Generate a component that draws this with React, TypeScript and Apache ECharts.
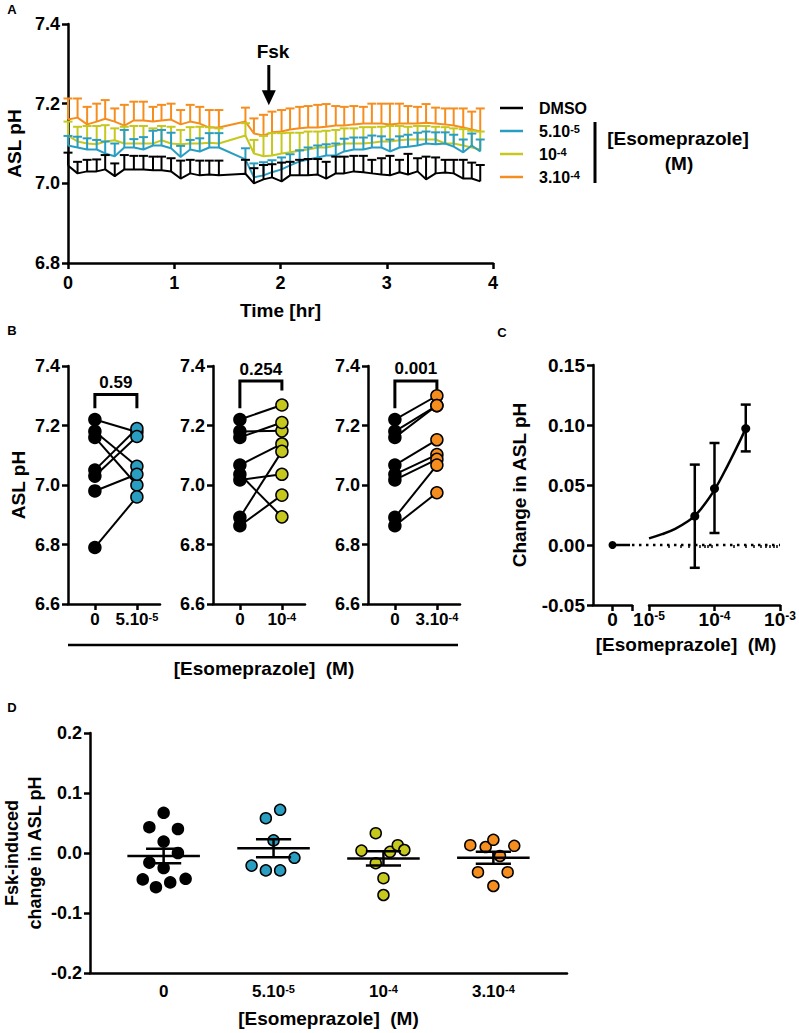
import React, { useEffect, useRef } from 'react';
import * as echarts from 'echarts';

const F = 'Arial, "Liberation Sans", Helvetica, sans-serif';
const FN = '"Liberation Sans Narrow", "Arial Narrow", Arial, "Liberation Sans", sans-serif';

const C_DMSO = '#000000';
const C_50 = '#2A9EC1';
const C_100 = '#C6C81E';
const C_300 = '#F68E1F';

// ---------------- Panel A ----------------
const timeHr = [0, 0.09, 0.18, 0.27, 0.35, 0.44, 0.53, 0.62, 0.71, 0.8, 0.88, 0.97, 1.06, 1.15, 1.24, 1.33, 1.42,
  1.67,
  1.75, 1.84, 1.92, 2.01, 2.09, 2.18, 2.26, 2.35, 2.43, 2.52, 2.6, 2.69, 2.78, 2.86, 2.95, 3.03, 3.12, 3.2, 3.29, 3.37, 3.46, 3.55, 3.63, 3.72, 3.8, 3.88];

const dmsoMean = [7.045, 7.025, 7.03, 7.03, 7.035, 7.018, 7.035, 7.035, 7.035, 7.033, 7.033, 7.03, 7.012, 7.025, 7.02, 7.022, 7.02,
  7.024,
  7.0, 7.01, 7.015, 7.005, 7.02, 7.02, 7.02, 7.022, 7.012, 7.025, 7.025, 7.03, 7.028, 7.025, 7.022, 7.02, 7.028, 7.022, 7.03, 7.01, 7.025, 7.027, 7.025, 7.012, 7.012, 7.005];
const dmsoSem = [0.032, 0.029, 0.029, 0.03, 0.036, 0.032, 0.036, 0.034, 0.034, 0.034, 0.034, 0.033, 0.045, 0.034, 0.037, 0.035, 0.037,
  0.035,
  0.038, 0.036, 0.033, 0.047, 0.034, 0.039, 0.041, 0.039, 0.042, 0.042, 0.042, 0.039, 0.041, 0.034, 0.041, 0.049, 0.031, 0.052, 0.033, 0.057, 0.04, 0.032, 0.034, 0.047, 0.04, 0.041];

const eso300Mean = [7.16, 7.165, 7.148, 7.155, 7.162, 7.155, 7.145, 7.158, 7.158, 7.155, 7.158, 7.16, 7.148, 7.155, 7.15, 7.14, 7.14,
  7.155,
  7.125, 7.12, 7.128, 7.13, 7.135, 7.138, 7.14, 7.14, 7.142, 7.145, 7.145, 7.148, 7.15, 7.15, 7.15, 7.148, 7.15, 7.15, 7.15, 7.152, 7.15, 7.148, 7.145, 7.14, 7.135, 7.13];
const eso300Sem = [0.053, 0.048, 0.044, 0.045, 0.047, 0.033, 0.052, 0.047, 0.047, 0.037, 0.039, 0.04, 0.036, 0.042, 0.042, 0.044, 0.044,
  0.035,
  0.038, 0.052, 0.052, 0.054, 0.053, 0.054, 0.054, 0.057, 0.057, 0.049, 0.047, 0.046, 0.042, 0.05, 0.05, 0.052, 0.05, 0.044, 0.042, 0.047, 0.04, 0.04, 0.043, 0.048, 0.045, 0.058];

const eso100Mean = [7.12, 7.105, 7.1, 7.098, 7.105, 7.108, 7.1, 7.1, 7.1, 7.1, 7.108, 7.1, 7.098, 7.1, 7.1, 7.102, 7.1,
  7.12,
  7.075, 7.068, 7.07, 7.075, 7.078, 7.082, 7.085, 7.09, 7.09, 7.095, 7.1, 7.1, 7.1, 7.102, 7.105, 7.105, 7.108, 7.11, 7.11, 7.11, 7.11, 7.1, 7.1, 7.095, 7.09, 7.085];
const eso100Sem = [0.035, 0.037, 0.044, 0.046, 0.041, 0.03, 0.042, 0.044, 0.044, 0.038, 0.036, 0.042, 0.036, 0.041, 0.042, 0.039, 0.038,
  0.031,
  0.034, 0.051, 0.056, 0.051, 0.049, 0.045, 0.045, 0.04, 0.042, 0.039, 0.038, 0.038, 0.041, 0.039, 0.037, 0.039, 0.036, 0.032, 0.034, 0.034, 0.032, 0.041, 0.038, 0.041, 0.042, 0.045];

const eso50Mean = [7.095, 7.09, 7.085, 7.085, 7.075, 7.068, 7.09, 7.09, 7.085, 7.095, 7.095, 7.088, 7.066, 7.085, 7.08, 7.09, 7.09,
  7.06,
  7.015, 7.02, 7.028, 7.035, 7.045, 7.055, 7.06, 7.065, 7.07, 7.07, 7.08, 7.085, 7.085, 7.09, 7.09, 7.08, 7.09, 7.092, 7.095, 7.1, 7.098, 7.1, 7.092, 7.078, 7.095, 7.08];
const eso50Sem = [0.024, 0.027, 0.028, 0.024, 0.03, 0.032, 0.044, 0.021, 0.031, 0.037, 0.039, 0.039, 0.028, 0.024, 0.033, 0.036, 0.036,
  0.028,
  0.035, 0.033, 0.03, 0.03, 0.028, 0.028, 0.03, 0.03, 0.028, 0.03, 0.032, 0.03, 0.03, 0.03, 0.028, 0.03, 0.028, 0.03, 0.032, 0.03, 0.03, 0.028, 0.03, 0.032, 0.03, 0.03];

const fskTime = 1.89;
const fskArrowTop = 7.297;
const fskArrowTip = 7.196;
const fskLabelTime = 1.93;
const fskLabelPH = 7.33;

const legendNames = ['DMSO', '5.10|-5', '10|-4', '3.10|-4'];

// ---------------- Panel B ----------------
const b50Before = [7.22, 7.18, 7.16, 7.05, 7.03, 6.98, 6.79];
const b50After = [7.178, 7.063, 7.0, 7.19, 7.163, 7.036, 6.96];
const b100Before = [7.22, 7.18, 7.16, 7.067, 7.036, 7.017, 6.891, 6.863];
const b100After = [7.269, 7.182, 7.21, 7.138, 6.893, 7.036, 7.113, 6.966];
const b300Before = [7.22, 7.18, 7.16, 7.067, 7.036, 7.017, 6.891, 6.863];
const b300After = [7.3, 7.267, 7.267, 7.152, 7.102, 7.086, 7.067, 6.974];
const bPValues = ['0.59', '0.254', '0.001'];
const bBracketTop = [7.304, 7.35, 7.35];
const bBracketLeftEnd = [7.258, 7.258, 7.258];
const bBracketRightEnd = [7.258, 7.318, 7.322];
const bPLabelY = [7.344, 7.389, 7.392];

// ---------------- Panel C ----------------
const cConc = [5e-5, 1e-4, 3e-4];
const cMean = [0.024, 0.047, 0.097];
const cLower = [-0.019, 0.01, 0.078];
const cUpper = [0.067, 0.085, 0.117];
const cZeroValue = 0;
const cFitConc = [1e-5, 1.58e-5, 2.51e-5, 3.98e-5, 5e-5, 6.31e-5, 1e-4, 1.58e-4, 2.51e-4, 3e-4];
const cFitValue = [0.0055, 0.009, 0.0135, 0.02, 0.0245, 0.0305, 0.046, 0.066, 0.088, 0.0975];
const cMajorTicks = [1e-5, 1e-4, 1e-3];
const cMinorTicks = [2e-5, 3e-5, 4e-5, 5e-5, 6e-5, 7e-5, 8e-5, 9e-5, 2e-4, 3e-4, 4e-4, 5e-4, 6e-4, 7e-4, 8e-4, 9e-4];

// ---------------- Panel D ----------------
const doseMain = ['0', '5.10', '10', '3.10'];
const doseExp = ['', '-5', '-4', '-4'];
const dDMSO = [0.067, 0.043, 0.04, 0.019, 0.0, -0.016, -0.025, -0.044, -0.049, -0.043, -0.057];
const dDMSOJitter = [0, -0.13, 0.13, 0, 0.13, -0.13, 0, -0.19, 0.06, 0.2, -0.07];
const d50 = [0.072, 0.058, 0.021, -0.008, -0.021, -0.029, -0.029];
const d50Jitter = [0.06, -0.07, 0, 0.19, -0.2, -0.07, 0.06];
const d100 = [0.033, 0.004, 0.002, 0.013, 0.005, -0.017, -0.042, -0.07];
const d100Jitter = [-0.07, -0.2, 0.06, 0.13, 0.19, -0.07, 0, 0];
const d300 = [0.013, 0.01, 0.022, 0.012, -0.005, -0.032, -0.032, -0.055];
const d300Jitter = [-0.21, -0.07, 0, 0.19, 0.06, -0.14, 0.13, 0];
const dMean = [-0.005, 0.008, -0.009, -0.008];
const dSem = [0.012, 0.015, 0.012, 0.01];

// ---------------- helpers ----------------
const rich = (size: number, sup: number, fam: string) => ({
  b: { fontSize: size, fontWeight: 'bold', fontFamily: fam, color: '#000' },
  s: { fontSize: sup, fontWeight: 'bold', fontFamily: fam, color: '#000', verticalAlign: 'top' },
});
const doseLabel = (i: number) => (doseExp[i] ? `{b|${doseMain[i]}}{s|${doseExp[i]}}` : `{b|${doseMain[i]}}`);

const axisLineS = { show: true, onZero: false, lineStyle: { color: '#000', width: 2.5 } };
const axisTickS = (len = 6) => ({ show: true, length: len, lineStyle: { color: '#000', width: 2.5 } });
const labelS = (size = 18, margin = 8, fam = F) => ({ color: '#000', fontSize: size, fontWeight: 'bold', fontFamily: fam, margin });
const nameS = (size = 19, fam = F) => ({ color: '#000', fontSize: size, fontWeight: 'bold', fontFamily: fam });

function upErrRender(color: string) {
  return (p: any, api: any) => {
    const a = api.coord([api.value(0), api.value(1)]);
    const b = api.coord([api.value(0), api.value(2)]);
    return {
      type: 'group',
      children: [
        { type: 'line', shape: { x1: a[0], y1: a[1], x2: b[0], y2: b[1] }, style: { stroke: color, lineWidth: 2 } },
        { type: 'line', shape: { x1: b[0] - 4.5, y1: b[1], x2: b[0] + 4.5, y2: b[1] }, style: { stroke: color, lineWidth: 2 } },
      ],
    };
  };
}

export default function App() {
  const ref = useRef<HTMLDivElement>(null);
  useEffect(() => {
    if (!ref.current) return;
    const chart = echarts.init(ref.current, undefined, { renderer: 'svg' });

    const grids = [
      { left: 68, top: 24, width: 425, height: 239 },
      { left: 68, top: 366, width: 92, height: 238 },
      { left: 213, top: 366, width: 92, height: 238 },
      { left: 368, top: 366, width: 92, height: 238 },
      { left: 593, top: 365, width: 39, height: 240 },
      { left: 649, top: 365, width: 131, height: 240 },
      { left: 90, top: 733, width: 477, height: 240 },
    ].map((g) => ({ ...g, containLabel: false, outerBoundsMode: 'none' }));

    const bX = (gi: number, k: number) => ({
      type: 'value', gridIndex: gi, min: -0.64, max: 1.55,
      axisLine: axisLineS, axisTick: { ...axisTickS(), customValues: [0, 1] },
      axisLabel: { ...labelS(17, 7), customValues: [0, 1], formatter: (v: number) => (v === 0 ? doseLabel(0) : doseLabel(k)), rich: rich(17, 11, F) },
      splitLine: { show: false },
    });
    const bY = (gi: number, named: boolean) => ({
      type: 'value', gridIndex: gi, min: 6.6, max: 7.4, interval: 0.2,
      axisLine: axisLineS, axisTick: axisTickS(), axisLabel: { ...labelS(18, 8), formatter: (v: number) => v.toFixed(1) },
      splitLine: { show: false },
      ...(named ? { name: 'ASL pH', nameLocation: 'middle', nameGap: 40, nameRotate: 90, nameTextStyle: nameS(19) } : {}),
    });

    const xAxis: any[] = [
      {
        type: 'value', gridIndex: 0, min: 0, max: 4, interval: 1,
        axisLine: axisLineS, axisTick: axisTickS(), axisLabel: labelS(18, 11), splitLine: { show: false },
        name: 'Time [hr]', nameLocation: 'middle', nameGap: 38, nameTextStyle: nameS(19),
      },
      bX(1, 1), bX(2, 2), bX(3, 3),
      {
        type: 'value', gridIndex: 4, min: -0.5, max: 0.5,
        axisLine: axisLineS, axisTick: { ...axisTickS(), customValues: [0, 0.5] },
        axisLabel: { ...labelS(19, 5), customValues: [0], formatter: () => '0' }, splitLine: { show: false },
      },
      {
        type: 'value', gridIndex: 5, min: -5, max: -3,
        axisLine: axisLineS, axisTick: { ...axisTickS(6), customValues: cMajorTicks.map((c) => Math.log10(c)) },
        axisLabel: { ...labelS(19, 5), customValues: cMajorTicks.map((c) => Math.log10(c)), formatter: (v: number) => `{b|10}{s|${Math.round(v)}}`, rich: rich(19, 12, F) },
        splitLine: { show: false },
      },
      {
        type: 'value', gridIndex: 5, min: -5, max: -3, position: 'bottom',
        axisLine: { show: false }, axisTick: { show: true, length: 3, customValues: cMinorTicks.map((c) => Math.log10(c)), lineStyle: { color: '#000', width: 1.5 } },
        axisLabel: { show: false }, splitLine: { show: false },
      },
      {
        type: 'value', gridIndex: 6, min: -0.67, max: 3.67,
        axisLine: axisLineS, axisTick: { show: false },
        axisLabel: { ...labelS(17, 10, FN), customValues: [0, 1, 2, 3], formatter: (v: number) => doseLabel(Math.round(v)), rich: rich(17, 11, FN) },
        splitLine: { show: false },
        name: '[Esomeprazole]  (M)', nameLocation: 'middle', nameGap: 36, nameTextStyle: nameS(19, FN),
      },
    ];

    const yAxis: any[] = [
      {
        type: 'value', gridIndex: 0, min: 6.8, max: 7.4, interval: 0.2,
        axisLine: axisLineS, axisTick: axisTickS(), axisLabel: { ...labelS(18, 8), formatter: (v: number) => v.toFixed(1) },
        splitLine: { show: false },
        name: 'ASL pH', nameLocation: 'middle', nameGap: 40, nameRotate: 90, nameTextStyle: nameS(19),
      },
      bY(1, true), bY(2, false), bY(3, false),
      {
        type: 'value', gridIndex: 4, min: -0.05, max: 0.15, interval: 0.05,
        axisLine: axisLineS, axisTick: axisTickS(), axisLabel: { ...labelS(19, 8), formatter: (v: number) => v.toFixed(2) },
        splitLine: { show: false },
        name: 'Change in ASL pH', nameLocation: 'middle', nameGap: 64, nameRotate: 90, nameTextStyle: nameS(19),
      },
      { type: 'value', gridIndex: 5, min: -0.05, max: 0.15, show: false },
      {
        type: 'value', gridIndex: 6, min: -0.2, max: 0.2, interval: 0.1,
        axisLine: axisLineS, axisTick: axisTickS(), axisLabel: { ...labelS(18, 8), formatter: (v: number) => v.toFixed(1) },
        splitLine: { show: false },
        name: 'Fsk-induced\nchange in ASL pH', nameLocation: 'middle', nameGap: 44, nameRotate: 90,
        nameMoveOverlap: false,
        nameTextStyle: { ...nameS(18), lineHeight: 23 },
      },
    ];

    const series: any[] = [];

    // Panel A
    const groupsA = [
      { c: C_300, m: eso300Mean, s: eso300Sem, z: 2 },
      { c: C_100, m: eso100Mean, s: eso100Sem, z: 3 },
      { c: C_50, m: eso50Mean, s: eso50Sem, z: 4 },
      { c: C_DMSO, m: dmsoMean, s: dmsoSem, z: 5 },
    ];
    groupsA.forEach((g) => {
      series.push({
        type: 'custom', xAxisIndex: 0, yAxisIndex: 0, z: g.z,
        data: timeHr.map((t, i) => [t, g.m[i], g.m[i] + g.s[i]]),
        renderItem: upErrRender(g.c),
      });
      series.push({
        type: 'line', xAxisIndex: 0, yAxisIndex: 0, z: g.z, symbol: 'none',
        data: timeHr.map((t, i) => [t, g.m[i]]),
        lineStyle: { color: g.c, width: 2 }, itemStyle: { color: g.c },
      });
    });
    series.push({
      type: 'custom', xAxisIndex: 0, yAxisIndex: 0, z: 10,
      data: [[fskTime, fskArrowTop, fskArrowTip, fskLabelTime, fskLabelPH]],
      renderItem: (p: any, api: any) => {
        const top = api.coord([api.value(0), api.value(1)]);
        const tip = api.coord([api.value(0), api.value(2)]);
        const lab = api.coord([api.value(3), api.value(4)]);
        const head = 15;
        return {
          type: 'group',
          children: [
            { type: 'line', shape: { x1: top[0], y1: top[1], x2: tip[0], y2: tip[1] - head + 2 }, style: { stroke: '#000', lineWidth: 3 } },
            { type: 'polygon', shape: { points: [[tip[0], tip[1]], [tip[0] - 7, tip[1] - head], [tip[0] + 7, tip[1] - head]] }, style: { fill: '#000' } },
            { type: 'text', x: lab[0], y: lab[1], style: { text: 'Fsk', fill: '#000', fontSize: 19, fontWeight: 'bold', fontFamily: F, align: 'center', verticalAlign: 'middle' } },
          ],
        };
      },
    });

    // Panel B
    const bSets = [
      { before: b50Before, after: b50After, c: C_50 },
      { before: b100Before, after: b100After, c: C_100 },
      { before: b300Before, after: b300After, c: C_300 },
    ];
    bSets.forEach((s, k) => {
      const ax = k + 1;
      series.push({
        type: 'custom', xAxisIndex: ax, yAxisIndex: ax, z: 2,
        data: s.before.map((v, i) => [0, v, 1, s.after[i]]),
        encode: { x: [0, 2], y: [1, 3] },
        renderItem: (p: any, api: any) => {
          const a = api.coord([api.value(0), api.value(1)]);
          const b = api.coord([api.value(2), api.value(3)]);
          return { type: 'line', shape: { x1: a[0], y1: a[1], x2: b[0], y2: b[1] }, style: { stroke: '#000', lineWidth: 2 } };
        },
      });
      series.push({
        type: 'scatter', xAxisIndex: ax, yAxisIndex: ax, z: 3, symbolSize: 12,
        data: s.before.map((v) => [0, v]),
        itemStyle: { color: '#000', borderColor: '#000', borderWidth: 1.5, opacity: 1 },
      });
      series.push({
        type: 'scatter', xAxisIndex: ax, yAxisIndex: ax, z: 3, symbolSize: 12,
        data: s.after.map((v) => [1, v]),
        itemStyle: { color: s.c, borderColor: '#000', borderWidth: 1.5, opacity: 1 },
      });
      series.push({
        type: 'custom', xAxisIndex: ax, yAxisIndex: ax, z: 4,
        data: [[0, bBracketTop[k], 1, bBracketLeftEnd[k], bBracketRightEnd[k], 0.5, bPLabelY[k]]],
        encode: { x: [0, 2], y: [1, 3] },
        renderItem: (p: any, api: any) => {
          const l = api.coord([api.value(0), api.value(3)]);
          const lt = api.coord([api.value(0), api.value(1)]);
          const rt = api.coord([api.value(2), api.value(1)]);
          const r = api.coord([api.value(2), api.value(4)]);
          const t = api.coord([api.value(5), api.value(6)]);
          return {
            type: 'group',
            children: [
              { type: 'polyline', shape: { points: [l, lt, rt, r] }, style: { stroke: '#000', lineWidth: 3, fill: 'none' } },
              { type: 'text', x: t[0], y: t[1], style: { text: bPValues[k], fill: '#000', fontSize: 17, fontWeight: 'bold', fontFamily: F, align: 'center', verticalAlign: 'middle' } },
            ],
          };
        },
      });
    });

    // Panel C
    series.push({
      type: 'line', xAxisIndex: 4, yAxisIndex: 4, symbol: 'none', z: 2,
      data: [[0, cZeroValue], [0.45, cZeroValue]], lineStyle: { color: '#000', width: 2.5 },
    });
    series.push({
      type: 'scatter', xAxisIndex: 4, yAxisIndex: 4, symbolSize: 8, z: 3,
      data: [[0, cZeroValue]], itemStyle: { color: '#000', opacity: 1 },
    });
    series.push({
      type: 'custom', xAxisIndex: 5, yAxisIndex: 5, z: 1,
      data: [[-5.26, 0, -3]],
      encode: { x: [0, 2], y: 1 },
      renderItem: (p: any, api: any) => {
        const a = api.coord([api.value(0), api.value(1)]);
        const b = api.coord([api.value(2), api.value(1)]);
        return {
          type: 'line', shape: { x1: a[0], y1: a[1], x2: b[0], y2: b[1] },
          style: { stroke: '#000', lineWidth: 2.5, lineDash: [2.5, 4.5] },
        };
      },
    });
    series.push({
      type: 'line', xAxisIndex: 5, yAxisIndex: 5, symbol: 'none', smooth: 0.4, z: 2,
      data: cFitConc.map((c, i) => [Math.log10(c), cFitValue[i]]), lineStyle: { color: '#000', width: 2.5 },
    });
    series.push({
      type: 'custom', xAxisIndex: 5, yAxisIndex: 5, z: 3,
      data: cConc.map((c, i) => [Math.log10(c), cMean[i], cLower[i], cUpper[i]]),
      encode: { x: 0, y: [1, 2, 3] },
      renderItem: (p: any, api: any) => {
        const lo = api.coord([api.value(0), api.value(2)]);
        const hi = api.coord([api.value(0), api.value(3)]);
        const st = { stroke: '#000', lineWidth: 2.5 };
        return {
          type: 'group',
          children: [
            { type: 'line', shape: { x1: lo[0], y1: lo[1], x2: hi[0], y2: hi[1] }, style: st },
            { type: 'line', shape: { x1: lo[0] - 5, y1: lo[1], x2: lo[0] + 5, y2: lo[1] }, style: st },
            { type: 'line', shape: { x1: hi[0] - 5, y1: hi[1], x2: hi[0] + 5, y2: hi[1] }, style: st },
          ],
        };
      },
    });
    series.push({
      type: 'scatter', xAxisIndex: 5, yAxisIndex: 5, symbolSize: 9, z: 4,
      data: cConc.map((c, i) => [Math.log10(c), cMean[i]]), itemStyle: { color: '#000', opacity: 1 },
    });

    // Panel D
    const dSets = [
      { v: dDMSO, j: dDMSOJitter, c: '#000' },
      { v: d50, j: d50Jitter, c: C_50 },
      { v: d100, j: d100Jitter, c: C_100 },
      { v: d300, j: d300Jitter, c: C_300 },
    ];
    dSets.forEach((s, i) => {
      series.push({
        type: 'scatter', xAxisIndex: 7, yAxisIndex: 6, symbolSize: 11, z: 2,
        data: s.v.map((v, k) => [i + s.j[k], v]),
        itemStyle: { color: s.c, borderColor: '#000', borderWidth: 1.5, opacity: 1 },
      });
    });
    series.push({
      type: 'custom', xAxisIndex: 7, yAxisIndex: 6, z: 3,
      data: dMean.map((m, i) => [i, m, m - dSem[i], m + dSem[i]]),
      encode: { x: 0, y: [1, 2, 3] },
      renderItem: (p: any, api: any) => {
        const x = api.value(0);
        const m0 = api.coord([x - 0.33, api.value(1)]);
        const m1 = api.coord([x + 0.33, api.value(1)]);
        const lo0 = api.coord([x - 0.16, api.value(2)]);
        const lo1 = api.coord([x + 0.16, api.value(2)]);
        const hi0 = api.coord([x - 0.16, api.value(3)]);
        const hi1 = api.coord([x + 0.16, api.value(3)]);
        const c = api.coord([x, api.value(1)]);
        const st = { stroke: '#000', lineWidth: 2.5 };
        return {
          type: 'group',
          children: [
            { type: 'line', shape: { x1: m0[0], y1: m0[1], x2: m1[0], y2: m1[1] }, style: st },
            { type: 'line', shape: { x1: c[0], y1: lo0[1], x2: c[0], y2: hi0[1] }, style: st },
            { type: 'line', shape: { x1: lo0[0], y1: lo0[1], x2: lo1[0], y2: lo1[1] }, style: st },
            { type: 'line', shape: { x1: hi0[0], y1: hi0[1], x2: hi1[0], y2: hi1[1] }, style: st },
          ],
        };
      },
    });

    // Graphic: panel letters, legend of A, titles of B and C
    const txt = (x: number, y: number, text: string, size: number, align = 'center', extra: any = {}) => ({
      type: 'text', x, y, silent: true,
      style: { text, fill: '#000', fontSize: size, fontWeight: 'bold', fontFamily: F, align, verticalAlign: 'middle', ...extra },
    });
    const legendColors = [C_DMSO, C_50, C_100, C_300];
    const legendRows = [108, 131, 154, 177];
    const elements: any[] = [
      txt(12, 9, 'A', 13), txt(12, 330, 'B', 13), txt(502, 332, 'C', 13), txt(12, 707, 'D', 13),
    ];
    legendNames.forEach((n, i) => {
      const y = legendRows[i];
      elements.push({ type: 'line', shape: { x1: 500, y1: y, x2: 523, y2: y }, style: { stroke: legendColors[i], lineWidth: 2.5 } });
      const parts = n.split('|');
      const t = parts.length > 1 ? `{b|${parts[0]}}{s|${parts[1]}}` : `{b|${parts[0]}}`;
      elements.push(txt(539, y, t, 16, 'left', { rich: rich(16, 11, F) }));
    });
    elements.push({ type: 'line', shape: { x1: 595, y1: 122, x2: 595, y2: 183 }, style: { stroke: '#000', lineWidth: 3 } });
    elements.push(txt(678, 138, '[Esomeprazole]', 19));
    elements.push(txt(679, 163, '(M)', 19));
    elements.push({ type: 'line', shape: { x1: 68, y1: 645, x2: 458, y2: 645 }, style: { stroke: '#000', lineWidth: 2.5 } });
    elements.push(txt(264, 668, '[Esomeprazole]  (M)', 19));
    elements.push(txt(686, 644, '[Esomeprazole]  (M)', 19));

    chart.setOption({
      animation: false,
      backgroundColor: '#fff',
      textStyle: { fontFamily: F },
      grid: grids,
      xAxis,
      yAxis,
      series,
      graphic: { elements },
    });
    return () => chart.dispose();
  }, []);
  return <div ref={ref} style={{ position: 'absolute', left: 0, top: 0, width: 799, height: 1033 }} />;
}
